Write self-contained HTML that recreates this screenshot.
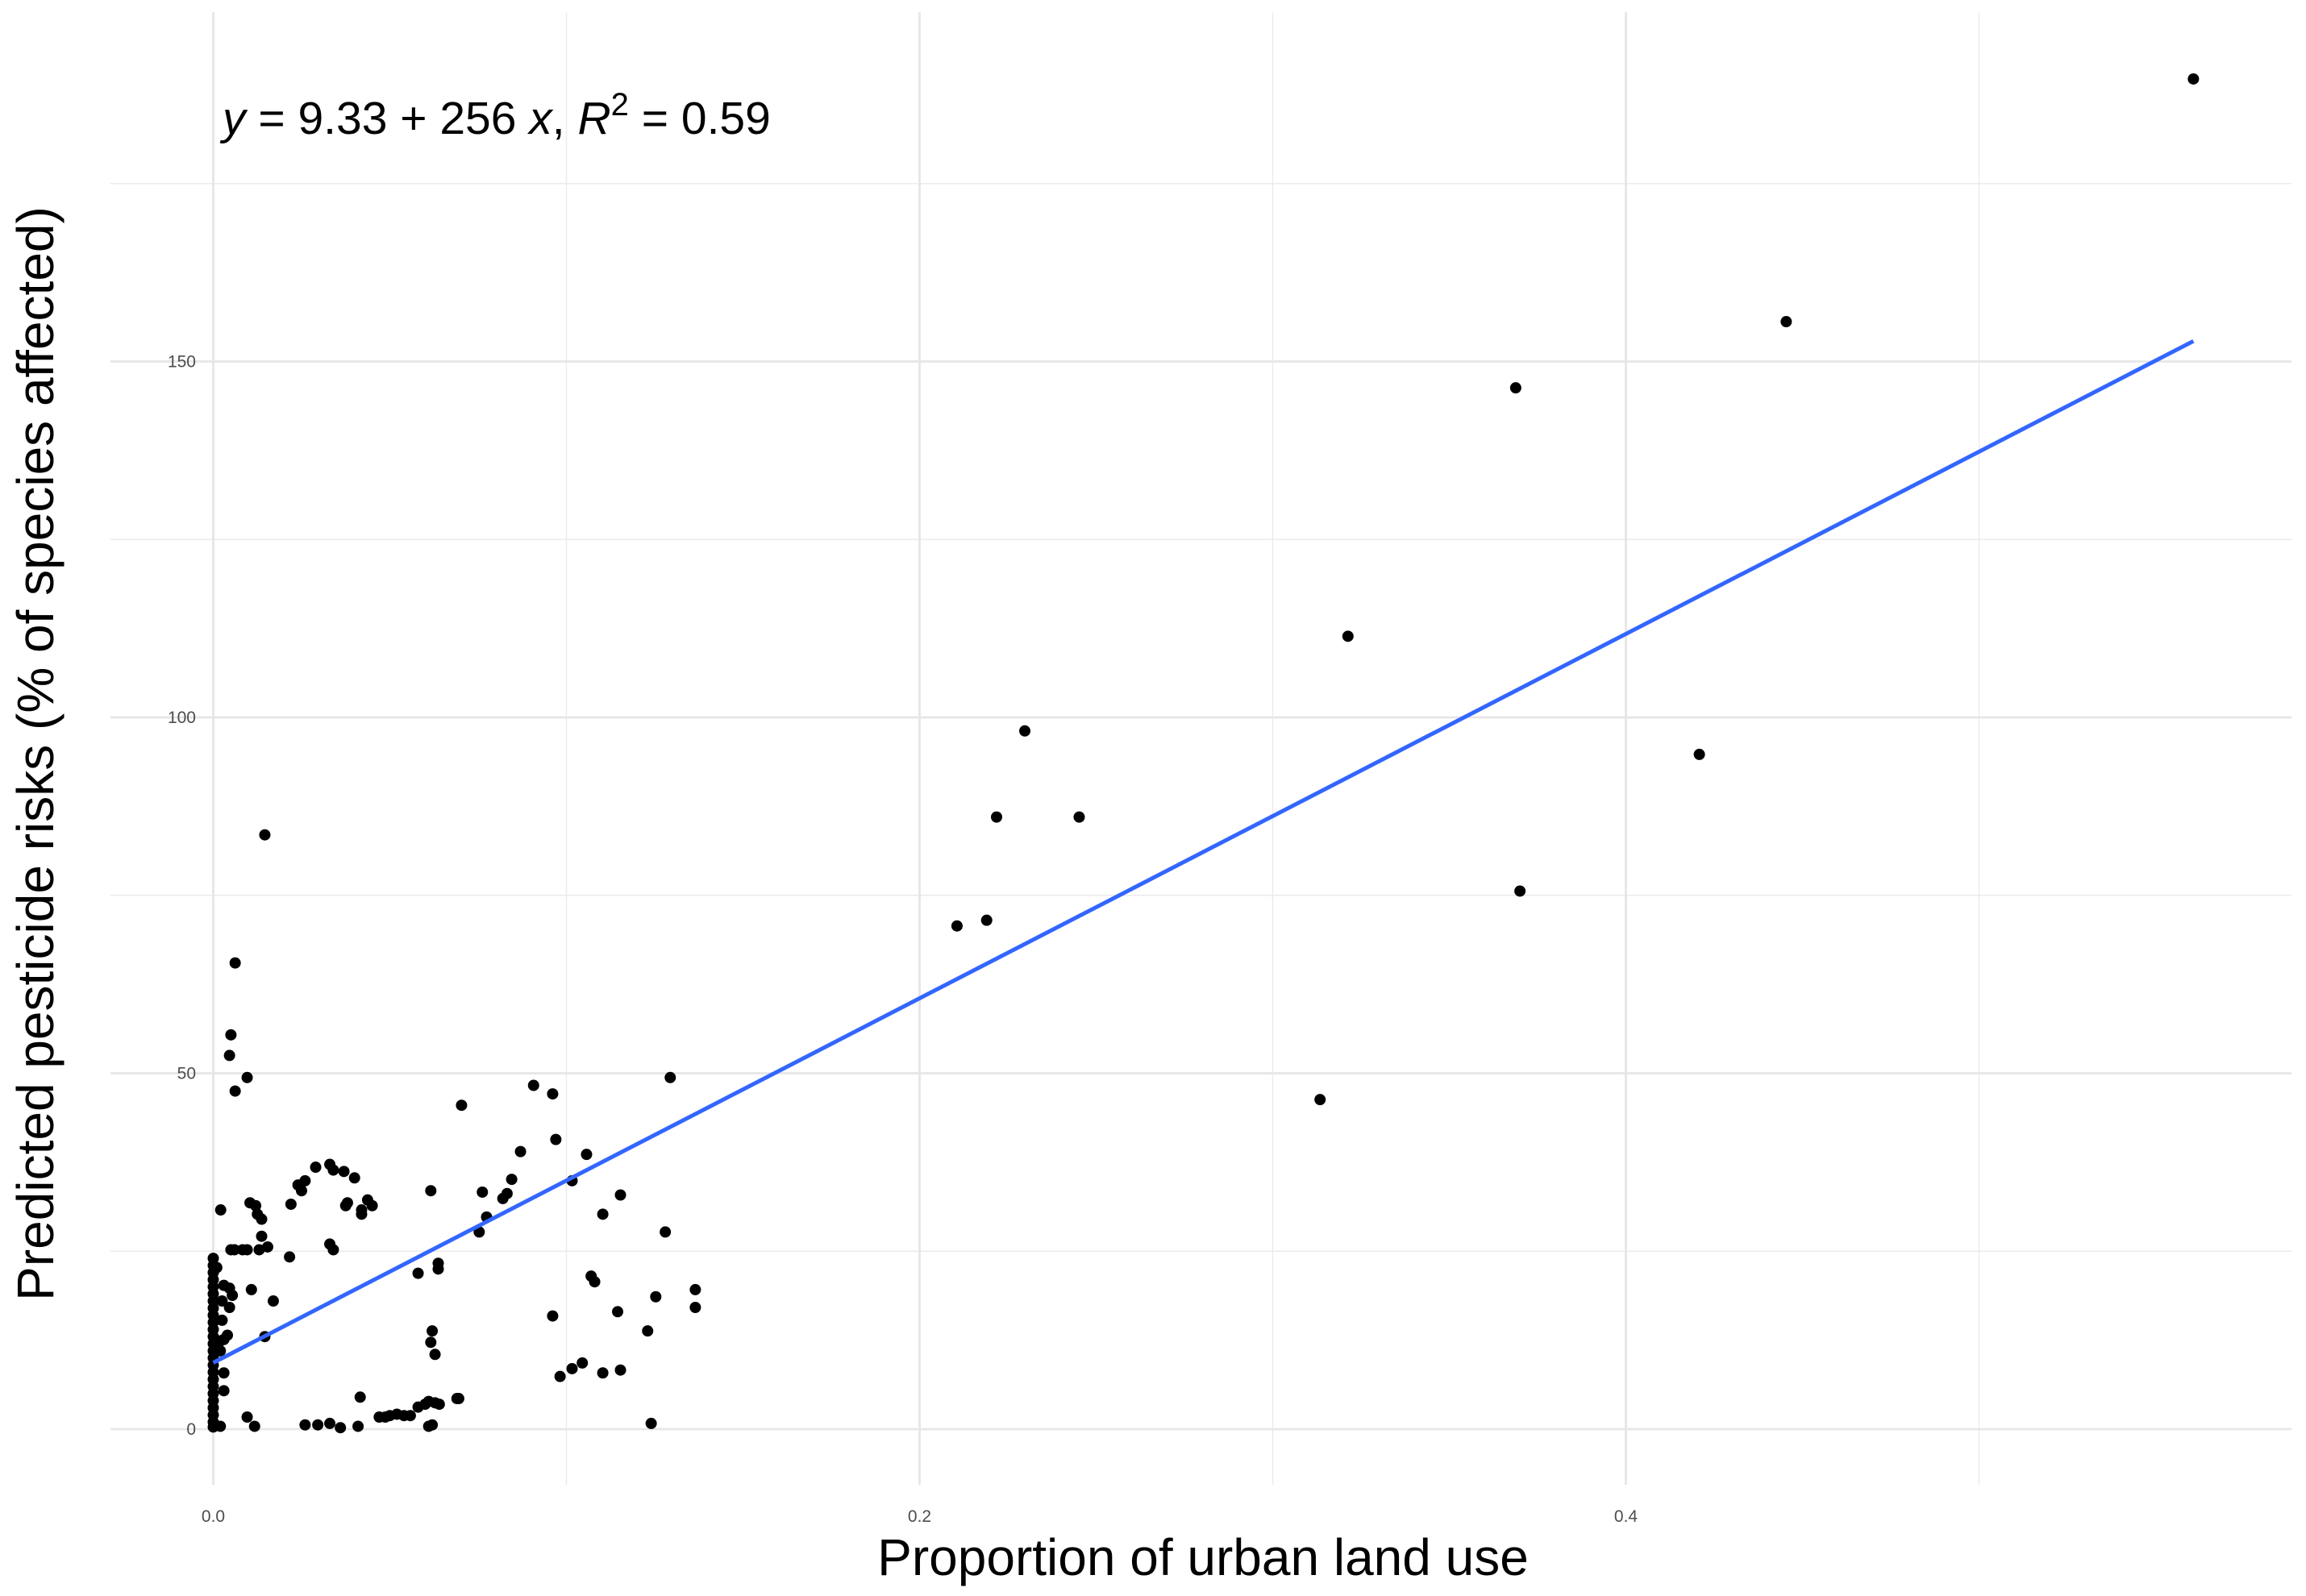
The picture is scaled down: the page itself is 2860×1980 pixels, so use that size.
<!DOCTYPE html>
<html><head><meta charset="utf-8"><style>
html,body{margin:0;padding:0;background:#fff}
svg{display:block;font-family:"Liberation Sans",sans-serif}
</style></head><body>
<svg id="chart" width="2860" height="1980" viewBox="0 0 2860 1980" xmlns="http://www.w3.org/2000/svg">
<g id="grid"></g>
<g id="ticks"></g>
<g id="pts"></g>
<g id="fit"></g>
<text x="276" y="166" font-size="57" fill="#000"><tspan font-style="italic">y</tspan> = 9.33 + 256 <tspan font-style="italic">x</tspan>, <tspan font-style="italic">R</tspan><tspan dy="-23" font-size="40">2</tspan><tspan dy="23"> = 0.59</tspan></text>
<text x="1492" y="1954" font-size="64" text-anchor="middle" fill="#000">Proportion of urban land use</text>
<text transform="translate(66,935) rotate(-90)" font-size="64" text-anchor="middle" fill="#000">Predicted pesticide risks (% of species affected)</text>
</svg>
<script>
const xTicks=[0,0.2,0.4];
const xTickLabels=["0.0","0.2","0.4"];
const xMinor=[0.1,0.3,0.5];
const yTicks=[0,50,100,150];
const yTickLabels=["0","50","100","150"];
const yMinor=[25,75,125,175];
const intercept=9.33;
const slope=256;
const fitRange=[0,0.5607];
const xs=[0.5607,0.4454,0.3688,0.3213,0.2298,0.4208,0.2218,0.2452,0.219,0.2106,0.37,0.3134,0.0146,0.0062,0.005,0.0046,0.0096,0.0062,0.1294,0.0907,0.0961,0.0703,0.087,0.097,0.1057,0.0845,0.1016,0.0832,0.082,0.0762,0.0616,0.1153,0.128,0.0753,0.0774,0.1103,0.0021,
0.029,0.033,0.034,0.037,0.04,0.026,0.024,0.025,0.022,0.0104,0.012,0.0125,0.0137,0.0375,0.038,0.0437,0.045,0.042,0.042,0.033,0.034,
0.0137,0.0154,0.013,0.0096,0.0083,0.005,0.006,0.0216,0.017,0.0108,0.0146,
0.1365,0.1365,0.1253,0.1145,0.0961,0.107,0.108,0.123,0.1045,0.1016,0.0982,0.1103,0.1153,0.124,
0.0637,0.0637,0.058,0.062,0.0616,0.0628,
0.0416,0.047,0.0487,0.05,0.052,0.054,0.0558,0.058,0.06,0.061,0.0628,0.064,0.0695,0.069,
0.061,0.062,0.026,0.0296,0.033,0.036,0.041,0.0096,0.0117,
0,0,0,0,0,0,0,0,0,0,0,0,0,0,0,0,0,0,0,0,0,0,0,0,0,
0.003,0.003,0.002,0.003,0.004,0.0046,0.0054,0.003,0.0046,0.0025,0.001,0.002,0.002,0.0025];
const ys=[189.7,155.6,146.3,111.4,98.1,94.8,86.0,86.0,71.5,70.7,75.6,46.3,83.5,65.5,55.4,52.5,49.4,47.5,49.4,48.3,47.1,45.5,39.0,40.7,38.6,35.1,34.9,33.1,32.4,33.3,33.5,32.9,27.7,27.7,29.8,30.2,30.8,
36.8,37.2,36.4,36.2,35.3,34.9,34.3,33.5,31.6,31.8,31.4,30.2,29.5,31.4,31.8,32.2,31.4,30.2,30.8,26.0,25.2,
27.1,25.6,25.2,25.2,25.2,25.2,25.2,24.2,18.0,19.6,13.0,
19.6,17.1,18.6,16.5,15.9,21.5,20.7,13.8,9.3,8.5,7.4,7.9,8.3,0.8,
22.5,23.3,21.9,13.8,12.2,10.5,
4.5,1.7,1.7,1.9,2.1,1.9,1.9,3.1,3.5,3.9,3.7,3.5,4.3,4.3,
0.4,0.6,0.6,0.6,0.8,0.2,0.4,1.7,0.4,
0.3,1,2,3,4,5,6,7,8,9,10,11,12,13,14,15,16,17,18,19,20,21,22,23,24,
7.9,5.4,12.4,12.6,13.2,17.1,18.8,20.2,19.8,18,22.7,0.4,11.0,15.3];

const NS="http://www.w3.org/2000/svg";
const X=v=>264.5+v*4380;
const Y=v=>1773-v*8.83;
const L=137,R=2842,T=15,B=1842;
function mk(tag,attrs,parent){const e=document.createElementNS(NS,tag);for(const k in attrs)e.setAttribute(k,attrs[k]);parent.appendChild(e);return e;}
const grid=document.getElementById('grid'),ticks=document.getElementById('ticks'),pts=document.getElementById('pts'),fit=document.getElementById('fit');
xMinor.forEach(v=>{const e=mk('line',{x1:X(v),x2:X(v),y1:T,y2:B,stroke:'#ebebeb','stroke-width':1.4},grid);

});
yMinor.forEach(v=>{const e=mk('line',{x1:L,x2:R,y1:Y(v),y2:Y(v),stroke:'#ebebeb','stroke-width':1.4},grid);

});
xTicks.forEach((v,i)=>{const e=mk('line',{x1:X(v),x2:X(v),y1:T,y2:B,stroke:'#e6e6e6','stroke-width':2.8},grid);


const t=mk('text',{x:X(v),y:1888,'font-size':21,fill:'#4d4d4d','text-anchor':'middle'},ticks);t.textContent=xTickLabels[i];

});
yTicks.forEach((v,i)=>{const e=mk('line',{x1:L,x2:R,y1:Y(v),y2:Y(v),stroke:'#e6e6e6','stroke-width':2.8},grid);


const t=mk('text',{x:243,y:Y(v)+7,'font-size':21,fill:'#4d4d4d','text-anchor':'end'},ticks);t.textContent=yTickLabels[i];

});
xs.forEach((v,i)=>{const c=mk('circle',{cx:X(v),cy:Y(ys[i]),r:7,fill:'#000'},pts);

});
const ln=mk('line',{x1:X(fitRange[0]),y1:Y(intercept+slope*fitRange[0]),x2:X(fitRange[1]),y2:Y(intercept+slope*fitRange[1]),stroke:'#3366ff','stroke-width':5},fit);


</script>
</body></html>
